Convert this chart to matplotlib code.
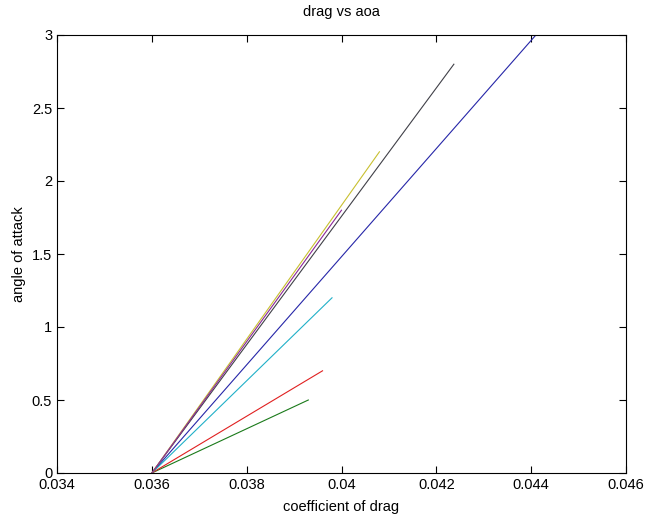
import matplotlib
matplotlib.use('Agg')
import matplotlib.pyplot as plt

plt.rcParams['font.family'] = ['Liberation Sans', 'DejaVu Sans']

# every curve starts at the same point
x0 = 0.036
y0 = 0.0

# end points of each line (coefficient of drag, angle of attack)
end_cd  = [0.0441, 0.0393, 0.0396, 0.0398, 0.04237, 0.0408, 0.0400]
end_aoa = [3.0,    0.5,    0.7,    1.2,    2.8,     2.2,    1.8]
colors  = ['#2626a8', '#1a7a1a', '#e02020', '#20b0c8', '#404048', '#c8c030', '#8a2898']

xticks = [0.034, 0.036, 0.038, 0.04, 0.042, 0.044, 0.046]
xticklabels = ['0.034', '0.036', '0.038', '0.04', '0.042', '0.044', '0.046']
yticks = [0, 0.5, 1, 1.5, 2, 2.5, 3]
yticklabels = ['0', '0.5', '1', '1.5', '2', '2.5', '3']

fig = plt.figure(figsize=(6.47, 5.2), dpi=100)
ax = fig.add_axes([57/647, 1-473/520, 569/647, 438/520])

for cd, aoa, c in zip(end_cd, end_aoa, colors):
    ax.plot([x0, cd], [y0, aoa], color=c, lw=0.8)

ax.set_xlim(0.034, 0.046)
ax.set_ylim(0, 3)
ax.set_xticks(xticks)
ax.set_xticklabels(xticklabels)
ax.set_yticks(yticks)
ax.set_yticklabels(yticklabels)
ax.tick_params(direction='in', top=True, right=True, length=5, labelsize=10.5, width=0.8)
for s in ax.spines.values():
    s.set_linewidth(0.8)

ax.set_xlabel('coefficient of drag', fontsize=10.5, labelpad=6)
ax.set_ylabel('angle of attack', fontsize=10.5, labelpad=4)
ax.set_title('drag vs aoa', fontsize=10.5, pad=14)

fig.savefig('out.png', dpi=100)
